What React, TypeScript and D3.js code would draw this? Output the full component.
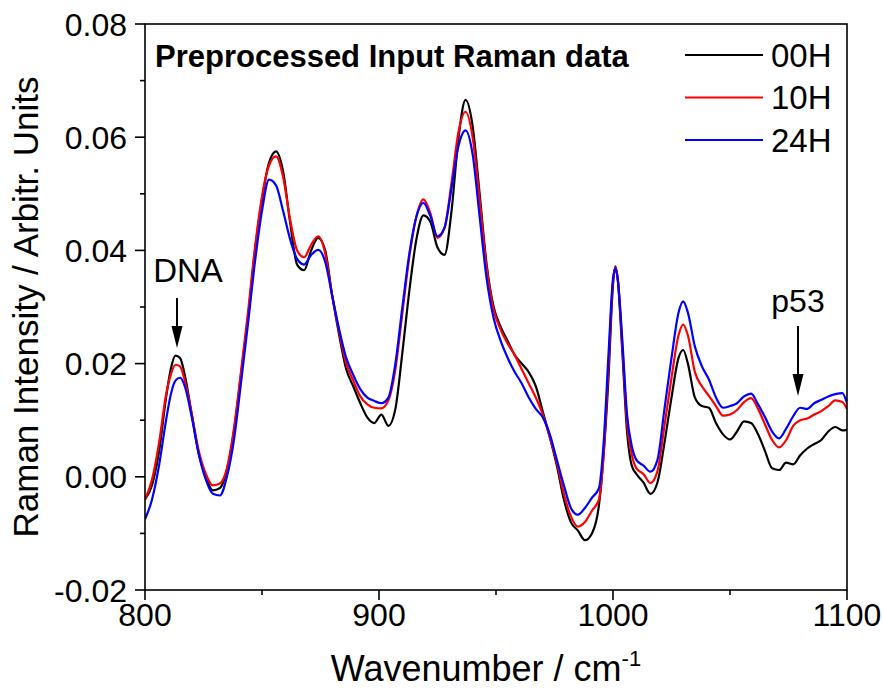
import React from "react";
import * as d3 from "d3";

const wavenumbers = [800, 803, 806, 809, 811, 813, 815, 817, 820, 823, 826, 829, 832, 835, 838, 841, 844, 847, 850, 853, 856, 859, 862, 865, 868, 871, 874, 877, 880, 883, 886, 889, 892, 895, 898, 901, 904, 907, 910, 913, 916, 919, 922, 925, 928, 931, 934, 937, 940, 943, 946, 949, 952, 955, 958, 961, 964, 967, 970, 973, 976, 979, 982, 985, 988, 991, 994, 996, 998, 1000, 1001, 1002, 1004, 1006, 1008, 1010, 1013, 1016, 1019, 1022, 1025, 1028, 1030, 1032, 1035, 1038, 1041, 1044, 1047, 1050, 1053, 1056, 1059, 1062, 1065, 1068, 1071, 1074, 1077, 1080, 1083, 1086, 1089, 1092, 1095, 1098, 1100];

const h00 = [-0.0040, -0.0015, 0.0045, 0.0140, 0.0190, 0.0214, 0.0210, 0.0180, 0.0110, 0.0040, 0.0000, -0.0024, -0.0020, 0.0012, 0.0080, 0.0180, 0.0280, 0.0400, 0.0490, 0.0555, 0.0575, 0.0540, 0.0450, 0.0375, 0.0365, 0.0400, 0.0422, 0.0400, 0.0320, 0.0250, 0.0190, 0.0160, 0.0130, 0.0105, 0.0095, 0.0110, 0.0090, 0.0120, 0.0220, 0.0330, 0.0420, 0.0462, 0.0450, 0.0405, 0.0392, 0.0470, 0.0600, 0.0666, 0.0620, 0.0500, 0.0375, 0.0300, 0.0265, 0.0240, 0.0215, 0.0200, 0.0185, 0.0160, 0.0115, 0.0070, 0.0020, -0.0040, -0.0080, -0.0095, -0.0112, -0.0100, -0.0050, 0.0040, 0.0170, 0.0340, 0.0372, 0.0350, 0.0220, 0.0080, 0.0020, 0.0005, -0.0010, -0.0030, -0.0010, 0.0060, 0.0140, 0.0210, 0.0224, 0.0200, 0.0140, 0.0125, 0.0122, 0.0095, 0.0075, 0.0066, 0.0080, 0.0098, 0.0095, 0.0075, 0.0045, 0.0015, 0.0012, 0.0025, 0.0022, 0.0038, 0.0050, 0.0058, 0.0065, 0.0080, 0.0088, 0.0082, 0.0083];

const h10 = [-0.0040, -0.0005, 0.0060, 0.0145, 0.0180, 0.0198, 0.0195, 0.0170, 0.0110, 0.0045, 0.0005, -0.0015, -0.0012, 0.0015, 0.0085, 0.0185, 0.0290, 0.0405, 0.0495, 0.0550, 0.0566, 0.0530, 0.0455, 0.0400, 0.0388, 0.0410, 0.0425, 0.0395, 0.0320, 0.0255, 0.0200, 0.0170, 0.0142, 0.0128, 0.0122, 0.0121, 0.0135, 0.0190, 0.0290, 0.0390, 0.0460, 0.0490, 0.0465, 0.0422, 0.0440, 0.0520, 0.0610, 0.0645, 0.0600, 0.0490, 0.0370, 0.0295, 0.0260, 0.0235, 0.0215, 0.0190, 0.0165, 0.0140, 0.0110, 0.0070, 0.0025, -0.0030, -0.0070, -0.0088, -0.0080, -0.0060, -0.0040, 0.0040, 0.0190, 0.0345, 0.0370, 0.0350, 0.0230, 0.0095, 0.0040, 0.0015, 0.0005, -0.0011, 0.0010, 0.0090, 0.0175, 0.0250, 0.0269, 0.0250, 0.0185, 0.0160, 0.0143, 0.0125, 0.0108, 0.0110, 0.0118, 0.0132, 0.0139, 0.0120, 0.0092, 0.0065, 0.0052, 0.0065, 0.0090, 0.0100, 0.0103, 0.0110, 0.0116, 0.0125, 0.0135, 0.0132, 0.0120];

const h24 = [-0.0075, -0.0040, 0.0020, 0.0100, 0.0145, 0.0170, 0.0175, 0.0160, 0.0105, 0.0040, -0.0005, -0.0030, -0.0033, 0.0000, 0.0065, 0.0165, 0.0270, 0.0380, 0.0470, 0.0525, 0.0515, 0.0470, 0.0420, 0.0385, 0.0375, 0.0392, 0.0401, 0.0380, 0.0320, 0.0260, 0.0210, 0.0180, 0.0155, 0.0140, 0.0134, 0.0130, 0.0140, 0.0200, 0.0300, 0.0395, 0.0460, 0.0484, 0.0460, 0.0425, 0.0440, 0.0510, 0.0585, 0.0612, 0.0570, 0.0460, 0.0350, 0.0280, 0.0240, 0.0210, 0.0185, 0.0165, 0.0140, 0.0120, 0.0105, 0.0075, 0.0030, -0.0015, -0.0055, -0.0067, -0.0055, -0.0037, -0.0020, 0.0060, 0.0210, 0.0350, 0.0368, 0.0350, 0.0240, 0.0110, 0.0055, 0.0030, 0.0020, 0.0009, 0.0030, 0.0120, 0.0210, 0.0290, 0.0310, 0.0290, 0.0230, 0.0195, 0.0172, 0.0140, 0.0122, 0.0125, 0.0130, 0.0142, 0.0147, 0.0128, 0.0105, 0.0080, 0.0068, 0.0085, 0.0107, 0.0122, 0.0120, 0.0130, 0.0136, 0.0142, 0.0146, 0.0148, 0.0130];

const seriesNames = ["00H", "10H", "24H"];
const seriesColors = ["#000000", "#ff0000", "#0000ff"];
const seriesValues = [h00, h10, h24];

const xTicks = [800, 900, 1000, 1100];
const xMinorTicks = [850, 950, 1050];
const yTicks = [-0.02, 0, 0.02, 0.04, 0.06, 0.08];
const yMinorTicks = [-0.01, 0.01, 0.03, 0.05, 0.07];

const titleText = "Preprocessed Input Raman data";
const xLabel = "Wavenumber / cm";
const yLabel = "Raman Intensity / Arbitr. Units";

const W = 883;
const H = 695;
const left = 145, right = 847, top = 24, bottom = 590;
const FONT = "'Liberation Sans', Arial, Helvetica, sans-serif";

export default function App() {
  const x = d3.scaleLinear().domain([800, 1100]).range([left, right]);
  const y = d3.scaleLinear().domain([-0.02, 0.08]).range([bottom, top]);
  const line = d3
    .line<number>()
    .x((_, i) => x(wavenumbers[i]))
    .y((d) => y(d))
    .curve(d3.curveMonotoneX);

  const arrow = (cx: number, y0: number, y1: number) => (
    <g>
      <line x1={cx} x2={cx} y1={y0} y2={y1 - 18} stroke="#000" strokeWidth={2} />
      <path d={`M${cx - 5.5},${y1 - 22} L${cx + 5.5},${y1 - 22} L${cx},${y1} Z`} fill="#000" />
    </g>
  );

  return (
    <svg width={W} height={H} style={{ display: "block", position: "absolute", left: 0, top: 0 }} fontFamily={FONT}>
      <rect x={0} y={0} width={W} height={H} fill="#fff" />
      <defs>
        <clipPath id="plotclip">
          <rect x={left} y={top} width={right - left} height={bottom - top} />
        </clipPath>
      </defs>
      <g clipPath="url(#plotclip)">
        {seriesValues.map((vals, k) => (
          <path key={k} d={line(vals) || ""} fill="none" stroke={seriesColors[k]} strokeWidth={2.2} strokeLinejoin="round" />
        ))}
      </g>
      <rect x={left} y={top} width={right - left} height={bottom - top} fill="none" stroke="#000" strokeWidth={1.6} />
      {yTicks.map((t) => (
        <g key={"y" + t}>
          <line x1={left - 10} x2={left} y1={y(t)} y2={y(t)} stroke="#000" strokeWidth={1.6} />
          <text x={left - 18} y={y(t)} dy="0.36em" textAnchor="end" fontSize={32} fill="#000">
            {d3.format(".2f")(t).replace("−", "-")}
          </text>
        </g>
      ))}
      {yMinorTicks.map((t) => (
        <line key={"ym" + t} x1={left - 5} x2={left} y1={y(t)} y2={y(t)} stroke="#000" strokeWidth={1.6} />
      ))}
      {xTicks.map((t) => (
        <g key={"x" + t}>
          <line x1={x(t)} x2={x(t)} y1={bottom} y2={bottom + 10} stroke="#000" strokeWidth={1.6} />
          <text x={x(t)} y={bottom + 36} textAnchor="middle" fontSize={32} fill="#000">
            {t}
          </text>
        </g>
      ))}
      {xMinorTicks.map((t) => (
        <line key={"xm" + t} x1={x(t)} x2={x(t)} y1={bottom} y2={bottom + 5} stroke="#000" strokeWidth={1.6} />
      ))}
      <text x={(left + right) / 2 - 10} y={681} textAnchor="middle" fontSize={36} fill="#000">
        {xLabel}
        <tspan dy={-15} fontSize={22}>-1</tspan>
      </text>
      <text transform={`translate(38,${(top + bottom) / 2}) rotate(-90)`} textAnchor="middle" fontSize={35} fill="#000">
        {yLabel}
      </text>
      <text x={155} y={67} fontSize={31} fontWeight="bold" fill="#000">
        {titleText}
      </text>
      {seriesNames.map((n, k) => {
        const ly = 55 + k * 42.5;
        return (
          <g key={n}>
            <line x1={685} x2={763} y1={ly} y2={ly} stroke={seriesColors[k]} strokeWidth={2.2} />
            <text x={771} y={ly + 11.5} fontSize={33} fill="#000">
              {n}
            </text>
          </g>
        );
      })}
      <text x={188} y={282} textAnchor="middle" fontSize={33} fill="#000">DNA</text>
      {arrow(177, 298, 348)}
      <text x={798} y={312} textAnchor="middle" fontSize={32} fill="#000">p53</text>
      {arrow(798, 326, 396)}
    </svg>
  );
}
